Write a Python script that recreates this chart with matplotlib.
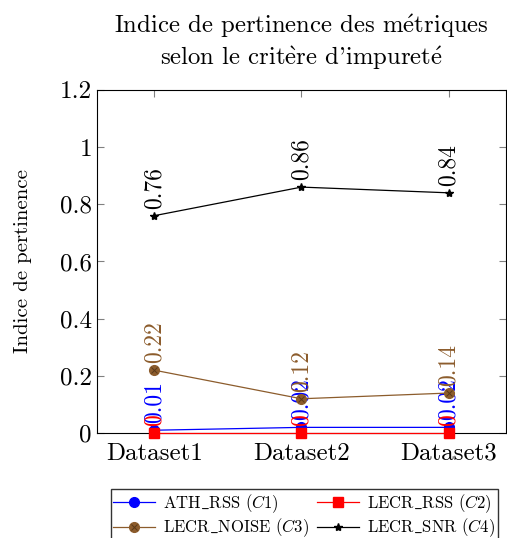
import matplotlib
matplotlib.use("Agg")
import matplotlib.pyplot as plt
from matplotlib.legend_handler import HandlerTuple
import numpy as np

categories = ["Dataset1", "Dataset2", "Dataset3"]
ath_rss = [0.01, 0.02, 0.02]
lecr_rss = [0, 0, 0]
lecr_noise = [0.22, 0.12, 0.14]
lecr_snr = [0.76, 0.86, 0.84]
ath_lbl = ["0.01", "0.02", "0.02"]
rss_lbl = ["0", "0", "0"]
noise_lbl = ["0.22", "0.12", "0.14"]
snr_lbl = ["0.76", "0.86", "0.84"]
yticks = [0, 0.2, 0.4, 0.6, 0.8, 1.0, 1.2]
ytick_labels = ["0", "0.2", "0.4", "0.6", "0.8", "1", "1.2"]

plt.rcParams['font.family'] = ['cmr10', 'DejaVu Serif']
plt.rcParams['mathtext.fontset'] = 'cm'
plt.rcParams['axes.formatter.use_mathtext'] = True

fig = plt.figure(figsize=(5.07, 5.38), dpi=100)
ax = fig.add_axes([0.191, 0.195, 0.807, 0.638])
x = np.arange(len(categories))

brown = '#8c5c2c'
series = [
    (ath_rss, ath_lbl, 'blue', 'o', r'ATH$\_$RSS ($C1$)'),
    (lecr_rss, rss_lbl, 'red', 's', r'LECR$\_$RSS ($C2$)'),
    (lecr_noise, noise_lbl, brown, 'o', r'LECR$\_$NOISE ($C3$)'),
    (lecr_snr, snr_lbl, 'black', '*', r'LECR$\_$SNR ($C4$)'),
]
handles = []
for vals, lbls, col, mk, name in series:
    ms = 7 if mk != '*' else 6
    h, = ax.plot(x, vals, color=col, marker=mk, markersize=ms, linewidth=0.9,
                 markerfacecolor=col, markeredgecolor=col, label=name,
                 clip_on=False, zorder=3)
    if col == brown:
        hx, = ax.plot(x, vals, linestyle='none', marker='x', markersize=4.5,
                      markeredgewidth=0.7, color='#5a3a1a', zorder=4)
        h = (h, hx)
    handles.append(h)
    for xi, v, t in zip(x, vals, lbls):
        ax.annotate(t, (xi, v), xytext=(0, 5), textcoords='offset points',
                    rotation=90, ha='center', va='bottom', color=col, fontsize=17)

ax.set_xlim(-0.39, 2.39)
ax.set_ylim(0, 1.2)
ax.set_xticks(x)
ax.set_xticklabels(categories, fontsize=18)
ax.set_yticks(yticks)
ax.set_yticklabels(ytick_labels, fontsize=18)
ax.tick_params(direction='in', top=True, right=True, color='#808080', length=5, width=0.8)
ax.tick_params(axis='x', pad=7)
ax.set_ylabel("Indice de pertinence", fontsize=15, labelpad=20)
ax.set_title(r"Indice de pertinence des m$\mathrm{\acute{e}}$triques" "\n"
             r"selon le crit$\mathrm{\grave{e}}$re d'impuret$\mathrm{\acute{e}}$",
             fontsize=17.8, pad=18)

order = [handles[0], handles[2], handles[1], handles[3]]
labels = [s[4] for s in (series[0], series[2], series[1], series[3])]
fig.legend(order, labels, loc='upper center', bbox_to_anchor=(0.6, 0.106), ncol=2,
           fontsize=12, frameon=True, fancybox=False, edgecolor='black',
           handlelength=2.5, columnspacing=0.5, handletextpad=0.5, borderpad=0.15,
           labelspacing=0.12, handler_map={tuple: HandlerTuple(ndivide=1)})

fig.savefig("out.png", dpi=100)
